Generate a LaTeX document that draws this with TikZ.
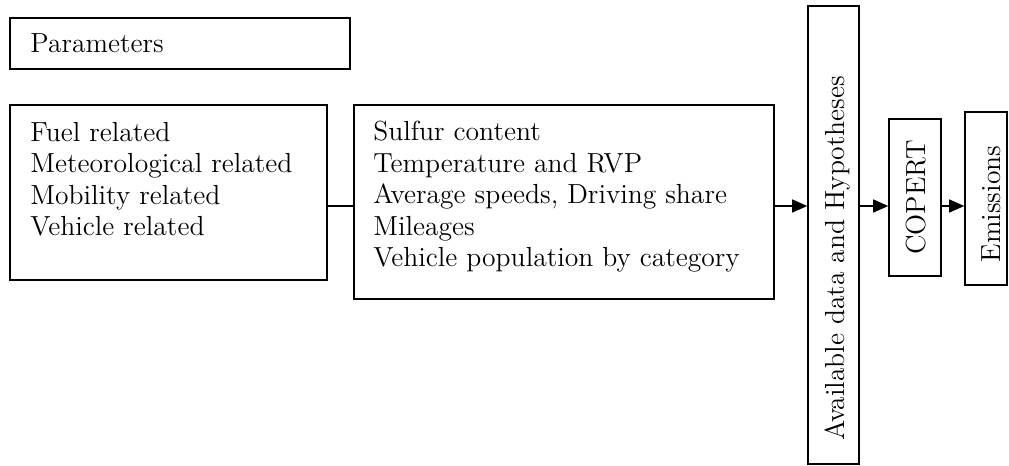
\documentclass[tikz,border=0pt]{standalone}
\usepackage{tikz}
\usetikzlibrary{arrows.meta}
\tikzset{
  pbox/.style={draw,line width=0.8pt,inner sep=0pt},
  ptext/.style={inner sep=0pt,align=left,font=\fontsize{13.8}{15.7}\selectfont},
  flowarrow/.style={line width=0.8pt,-{Triangle[length=7.5pt,width=6.5pt]}}
}
\begin{document}
\begin{tikzpicture}[x=0.5pt,y=-0.5pt]
\useasboundingbox (0,0) rectangle (1009,466);
% parameter boxes
\node[pbox,minimum width=170pt,minimum height=25.5pt] (param) at (180,43.5) {};
\node[ptext,anchor=base west] (paramtxt) at (30,53) {Parameters};
\node[pbox,minimum width=158.5pt,minimum height=87.5pt] (groups) at (168.5,192.5) {};
\node[ptext,anchor=north west] (groupstxt) at (30,122)
  {Fuel related\\Meteorological related\\Mobility related\\Vehicle related};
\node[pbox,minimum width=210pt,minimum height=97pt] (inputs) at (564,202) {};
\node[ptext,anchor=north west] (inputstxt) at (373,121)
  {Sulfur content\\Temperature and RVP\\Average speeds, Driving share\\Mileages\\Vehicle population by category};
% vertical boxes
\node[pbox,minimum width=25.5pt,minimum height=229pt] (avail) at (833.5,235) {};
\node[ptext,rotate=90,anchor=base] (availtxt) at (844,258) {Available data and Hypotheses};
\node[pbox,minimum width=26pt,minimum height=78.5pt] (copert) at (915,197.5) {};
\node[ptext,rotate=90,anchor=base] (coperttxt) at (925,197.5) {COPERT};
\node[pbox,minimum width=21pt,minimum height=86.5pt] (emis) at (986,198.5) {};
\node[ptext,rotate=90,anchor=base] (emistxt) at (1000,204) {Emissions};
% flow
\coordinate (flow) at (0,206);
\draw[line width=0.8pt] (groups.east |- flow) -- (inputs.west |- flow);
\draw[flowarrow] (inputs.east |- flow) -- (avail.west |- flow);
\draw[flowarrow] (avail.east |- flow) -- (copert.west |- flow);
\draw[flowarrow] (copert.east |- flow) -- (emis.west |- flow);
\end{tikzpicture}
\end{document}
